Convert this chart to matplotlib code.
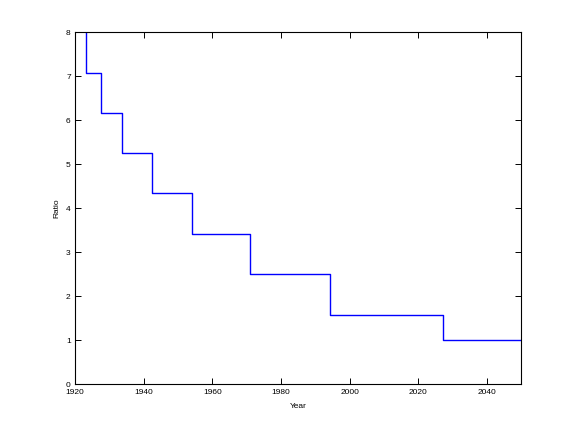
import matplotlib
matplotlib.use('Agg')
import matplotlib.pyplot as plt

# Anos en que cambia el valor y nivel de cada escalon
step_years = [1923.1, 1927.7, 1933.6, 1942.4, 1954.2, 1971.1, 1994.2, 2027.2]
levels = [7.08, 6.17, 5.26, 4.35, 3.42, 2.51, 1.59, 1.0]
start_level = 8.6
end_year = 2050

x_ticks = [1920, 1940, 1960, 1980, 2000, 2020, 2040]
y_ticks = [0, 1, 2, 3, 4, 5, 6, 7, 8]

plt.rcParams['font.family'] = ['Liberation Sans', 'DejaVu Sans']

fig = plt.figure(figsize=(5.76, 4.32), dpi=100)
ax = fig.add_axes([0.13, 0.11, 0.775, 0.815])

xs = [step_years[0]] + step_years + [end_year]
ys = [start_level] + levels + [levels[-1]]
ax.plot(xs, ys, drawstyle='steps-post', color='#0000ff', linewidth=1.0)

ax.set_xlim(1920, 2050)
ax.set_ylim(0, 8)
ax.set_xticks(x_ticks)
ax.set_yticks(y_ticks)
ax.tick_params(direction='in', length=4, width=0.7, labelsize=6,
               top=True, right=True, pad=3)
for s in ax.spines.values():
    s.set_linewidth(0.8)

ax.set_xlabel('Year', fontsize=6, labelpad=5)
ax.set_ylabel('Ratio', fontsize=6, labelpad=4)

fig.savefig('out.png', dpi=100)
